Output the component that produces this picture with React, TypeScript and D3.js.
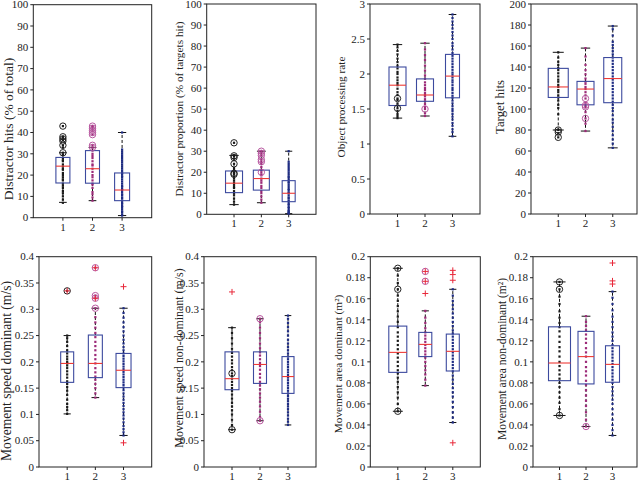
import React from "react";
import * as d3 from "d3";

// ---------- data ----------
const groups = ["1", "2", "3"];
const yLabels = [
  "Distractor hits (% of total)",
  "Distractor proportion (% of targets hit)",
  "Object processing rate",
  "Target hits",
  "Movement speed dominant (m/s)",
  "Movement speed non-dominant (m/s)",
  "Movement area dominant (m²)",
  "Movement area non-dominant (m²)",
];
const yMaxes = [100, 100, 3, 200, 0.4, 0.4, 0.2, 0.2];
const yTickSteps = [10, 10, 0.5, 20, 0.05, 0.05, 0.02, 0.02];

// stats per group: [q1, median, q3, whiskerLow, whiskerHigh]
const p1Stats = [[16.3, 24.2, 28.3, 7.2, 30.5], [16.2, 23, 31.5, 8, 33], [8, 13, 21, 1, 40]];
const p2Stats = [[10.3, 14.8, 20.6, 4.6, 28], [11.5, 17, 21, 5.5, 30], [6, 10, 16, 0.3, 30]];
const p3Stats = [[1.55, 1.84, 2.1, 1.37, 2.42], [1.61, 1.7, 1.93, 1.4, 2.44], [1.66, 1.97, 2.28, 1.11, 2.85]];
const p4Stats = [[111, 121, 138.7, 80, 154], [104, 119, 126.3, 79, 158], [106, 129, 149, 63, 179]];
const p5Stats = [[0.161, 0.197, 0.219, 0.101, 0.25], [0.17, 0.197, 0.251, 0.132, 0.302], [0.151, 0.184, 0.216, 0.06, 0.302]];
const p6Stats = [[0.147, 0.168, 0.219, 0.071, 0.265], [0.159, 0.195, 0.219, 0.088, 0.282], [0.14, 0.172, 0.21, 0.08, 0.288]];
const p7Stats = [[0.09, 0.109, 0.134, 0.053, 0.189], [0.105, 0.1166, 0.128, 0.0774, 0.1485], [0.0913, 0.11, 0.1264, 0.0423, 0.169]];
const p8Stats = [[0.0821, 0.0989, 0.1333, 0.049, 0.176], [0.079, 0.105, 0.129, 0.0385, 0.1434], [0.0806, 0.0976, 0.1153, 0.03, 0.1668]];

// individual observations (dots)
const p1Dots = [
  [7, 8.5, 10, 11.5, 12.5, 14, 15, 16, 17.5, 18, 19, 20, 21, 22.5, 23, 24, 25, 26.5, 27, 28, 29.5, 30.5, 33, 34, 36.5, 37.5, 38, 43],
  [8, 9.5, 11, 12, 14, 15.5, 16, 17.5, 19, 20, 21.5, 23, 24.5, 25, 26.5, 28, 29, 30, 31.5, 33, 34, 39, 40.5, 41.5, 42.5, 43],
  [1, 1.5, 2.5, 3, 4, 5, 5.5, 6.5, 7, 8, 9, 9.5, 10.5, 11, 12, 13, 13.5, 14.5, 15, 16, 17, 18, 19, 19.5, 20.5, 21, 22, 23, 24, 25, 26, 27, 28, 29, 30, 31, 32, 40],
];
const p2Dots = [
  [4.6, 6, 7.5, 9, 10, 11, 12.5, 13, 14, 15, 16, 17, 18, 19, 19.5, 20, 21, 22, 24, 26.5, 27.5, 28, 34],
  [5.5, 7, 8.5, 10, 11, 12.5, 13.5, 15, 16, 17, 18.5, 19, 20, 21, 22.5, 24, 25, 26, 28, 29, 30],
  [0.3, 0.6, 1, 1.5, 2, 3, 3.5, 4.5, 5, 6, 6.5, 7.5, 8, 9, 10, 10.5, 11.5, 12, 13, 14, 15, 15.5, 16.5, 17.5, 18, 19, 20, 21, 22, 23, 24, 25, 30],
];
const p3Dots = [
  [1.37, 1.4, 1.43, 1.47, 1.51, 1.55, 1.58, 1.63, 1.65, 1.7, 1.74, 1.79, 1.84, 1.87, 1.91, 1.95, 2.0, 2.03, 2.08, 2.12, 2.17, 2.22, 2.28, 2.33, 2.38, 2.42],
  [1.4, 1.44, 1.5, 1.53, 1.57, 1.61, 1.64, 1.68, 1.7, 1.73, 1.77, 1.8, 1.84, 1.88, 1.93, 1.98, 2.05, 2.12, 2.2, 2.27, 2.35, 2.44],
  [1.11, 1.17, 1.21, 1.26, 1.3, 1.35, 1.39, 1.43, 1.47, 1.5, 1.54, 1.58, 1.62, 1.66, 1.69, 1.73, 1.77, 1.8, 1.84, 1.88, 1.91, 1.95, 1.99, 2.02, 2.06, 2.1, 2.14, 2.18, 2.22, 2.26, 2.3, 2.35, 2.4, 2.44, 2.5, 2.55, 2.6, 2.65, 2.7, 2.75, 2.8, 2.85],
];
const p4Dots = [
  [73, 77, 80, 95, 101, 104, 108, 111, 113, 116, 118, 121, 123, 126, 128, 131, 134, 137, 139, 142, 145, 149, 154],
  [79, 86, 91, 97, 102, 103.5, 106, 110, 113, 116, 119, 121, 124, 126, 129, 133, 137, 142, 150, 158],
  [63, 67, 71, 75, 79, 83, 87, 90, 94, 98, 101, 104, 107, 110, 113, 116, 119, 122, 125, 128, 131, 134, 137, 140, 143, 146, 149, 152, 155, 158, 161, 164, 170, 176, 179],
];
const p5Dots = [
  [0.101, 0.108, 0.114, 0.12, 0.128, 0.137, 0.145, 0.152, 0.158, 0.163, 0.17, 0.176, 0.182, 0.188, 0.193, 0.197, 0.2, 0.205, 0.21, 0.216, 0.222, 0.23, 0.238, 0.245, 0.25, 0.335],
  [0.132, 0.14, 0.15, 0.158, 0.166, 0.172, 0.18, 0.188, 0.197, 0.205, 0.213, 0.222, 0.23, 0.238, 0.247, 0.255, 0.265, 0.275, 0.285, 0.302, 0.321, 0.326, 0.379],
  [0.06, 0.066, 0.072, 0.078, 0.085, 0.092, 0.098, 0.104, 0.11, 0.116, 0.122, 0.128, 0.134, 0.14, 0.146, 0.151, 0.156, 0.161, 0.166, 0.171, 0.176, 0.181, 0.186, 0.191, 0.196, 0.201, 0.206, 0.211, 0.216, 0.222, 0.228, 0.235, 0.242, 0.25, 0.258, 0.266, 0.275, 0.284, 0.293, 0.302],
];
const p6Dots = [
  [0.071, 0.08, 0.09, 0.1, 0.108, 0.115, 0.122, 0.13, 0.138, 0.145, 0.15, 0.156, 0.162, 0.168, 0.173, 0.178, 0.184, 0.19, 0.197, 0.203, 0.21, 0.217, 0.225, 0.235, 0.245, 0.255, 0.265],
  [0.088, 0.095, 0.105, 0.115, 0.124, 0.132, 0.14, 0.148, 0.155, 0.162, 0.17, 0.177, 0.185, 0.192, 0.198, 0.205, 0.212, 0.218, 0.226, 0.235, 0.245, 0.255, 0.265, 0.275, 0.282],
  [0.08, 0.086, 0.092, 0.098, 0.104, 0.11, 0.115, 0.12, 0.125, 0.13, 0.135, 0.14, 0.145, 0.15, 0.155, 0.16, 0.165, 0.17, 0.175, 0.18, 0.185, 0.19, 0.195, 0.2, 0.205, 0.21, 0.216, 0.222, 0.228, 0.235, 0.242, 0.25, 0.258, 0.266, 0.274, 0.282, 0.288],
];
const p7Dots = [
  [0.053, 0.06, 0.066, 0.071, 0.076, 0.081, 0.085, 0.089, 0.092, 0.096, 0.1, 0.104, 0.108, 0.112, 0.116, 0.12, 0.124, 0.128, 0.133, 0.138, 0.143, 0.148, 0.153, 0.158, 0.163, 0.169, 0.175, 0.182, 0.189],
  [0.0774, 0.083, 0.088, 0.092, 0.096, 0.1, 0.104, 0.107, 0.11, 0.113, 0.116, 0.119, 0.122, 0.125, 0.128, 0.132, 0.137, 0.142, 0.1485],
  [0.0423, 0.047, 0.052, 0.057, 0.062, 0.067, 0.071, 0.075, 0.079, 0.083, 0.087, 0.091, 0.094, 0.097, 0.1, 0.103, 0.106, 0.109, 0.112, 0.115, 0.118, 0.121, 0.124, 0.127, 0.13, 0.134, 0.138, 0.142, 0.146, 0.15, 0.154, 0.158, 0.163, 0.169],
];
const p8Dots = [
  [0.049, 0.055, 0.061, 0.066, 0.071, 0.076, 0.08, 0.084, 0.088, 0.092, 0.096, 0.1, 0.105, 0.11, 0.114, 0.119, 0.124, 0.129, 0.133, 0.137, 0.142, 0.148, 0.155, 0.162, 0.169, 0.176],
  [0.0385, 0.045, 0.052, 0.058, 0.063, 0.068, 0.073, 0.078, 0.082, 0.087, 0.091, 0.095, 0.1, 0.105, 0.109, 0.113, 0.118, 0.122, 0.126, 0.13, 0.134, 0.138, 0.1434],
  [0.03, 0.035, 0.04, 0.045, 0.05, 0.055, 0.06, 0.064, 0.068, 0.072, 0.076, 0.08, 0.083, 0.086, 0.089, 0.092, 0.095, 0.098, 0.101, 0.104, 0.107, 0.11, 0.113, 0.116, 0.12, 0.124, 0.128, 0.133, 0.138, 0.143, 0.149, 0.155, 0.161, 0.1668],
];

// highlighted observations (circles in group colour)
const p1Circles = [[43, 38, 37, 36, 34, 30.5], [43, 42, 41, 40, 39, 34, 33], []];
const p2Circles = [[34, 27.8, 27, 24, 19.5, 19], [30, 29, 28, 26, 25, 20], []];
const p3Circles = [[1.65, 1.51], [1.5], []];
const p4Circles = [[80, 78, 73], [110, 103.5, 102, 91], []];
const p5Circles = [[0.335], [0.379, 0.326, 0.321, 0.302], []];
const p6Circles = [[0.178, 0.071], [0.282, 0.088], []];
const p7Circles = [[0.189, 0.169, 0.053], [0.186, 0.1766], []];
const p8Circles = [[0.176, 0.169, 0.049], [0.0385], []];

// outliers (red +)
const p1Outliers = [[], [], []];
const p2Outliers = [[], [], []];
const p3Outliers = [[], [], []];
const p4Outliers = [[], [], []];
const p5Outliers = [[0.335], [0.379, 0.321], [0.343, 0.046]];
const p6Outliers = [[0.333], [], []];
const p7Outliers = [[], [0.186, 0.1766, 0.165], [0.187, 0.183, 0.1776, 0.023]];
const p8Outliers = [[], [], [0.194, 0.177, 0.174]];

// ---------- layout (positions / sizes, not data) ----------
const layout = [
  { l: 33.3, r: 151.7, t: 4.7, b: 217.7, lx: 8, ly: 129, bw: [14, 14, 15], fs: 13.5 },
  { l: 206.7, r: 316, t: 4, b: 214.3, lx: 179, ly: 109, bw: [17, 16, 13], fs: 11.3 },
  { l: 370, r: 480, t: 4, b: 214, lx: 341, ly: 107, bw: [17, 17, 14], fs: 11.3 },
  { l: 531, r: 640, t: 4, b: 214, lx: 500, ly: 107, bw: [20, 17, 18], fs: 12.8 },
  { l: 39, r: 151.7, t: 256.7, b: 467, lx: 6, ly: 371, bw: [13, 14, 15], fs: 13.6 },
  { l: 204, r: 316, t: 256.7, b: 467, lx: 179, ly: 358, bw: [14, 13, 12], fs: 11.9 },
  { l: 370.3, r: 480.3, t: 256.7, b: 467, lx: 338, ly: 364, bw: [18, 13, 13], fs: 11.3 },
  { l: 533, r: 639, t: 256.7, b: 467, lx: 502, ly: 359, bw: [22, 16, 14], fs: 11.5 },
];

const statsAll = [p1Stats, p2Stats, p3Stats, p4Stats, p5Stats, p6Stats, p7Stats, p8Stats];
const dotsAll = [p1Dots, p2Dots, p3Dots, p4Dots, p5Dots, p6Dots, p7Dots, p8Dots];
const circlesAll = [p1Circles, p2Circles, p3Circles, p4Circles, p5Circles, p6Circles, p7Circles, p8Circles];
const outliersAll = [p1Outliers, p2Outliers, p3Outliers, p4Outliers, p5Outliers, p6Outliers, p7Outliers, p8Outliers];

const dotColors = ["#1a1a1a", "#9c2a78", "#1e2c84"];
const circleColors = ["#222", "#b858a0", "#1e2c84"];
const boxColor = "#3c4a9e";
const medianColor = "#ee3a36";
const plusColor = "#e8283a";
const font = "'Liberation Serif', 'Times New Roman', serif";
const frameRight = 637;

function Panel({ i }: { i: number }) {
  const L = layout[i];
  const right = Math.min(L.r, frameRight);
  const x = d3.scaleLinear().domain([0, 4]).range([L.l, L.r]);
  const y = d3.scaleLinear().domain([0, yMaxes[i]]).range([L.b, L.t]);
  const ticks = d3.range(0, yMaxes[i] + yTickSteps[i] / 2, yTickSteps[i]);
  const fmt = (v: number) => String(+v.toFixed(3));
  const stats = statsAll[i];
  return (
    <g>
      <rect x={L.l} y={L.t} width={right - L.l} height={L.b - L.t} fill="none" stroke="#222" strokeWidth={1} />
      {ticks.map((v, k) => (
        <g key={"yt" + k}>
          <line x1={L.l - 3} x2={L.l} y1={y(v)} y2={y(v)} stroke="#222" />
          <text x={L.l - 5} y={y(v)} dy="0.34em" textAnchor="end" fontSize={11} fontFamily={font} fill="#222">
            {fmt(v)}
          </text>
        </g>
      ))}
      {groups.map((gname, g) => (
        <g key={"xt" + g}>
          <line x1={x(g + 1)} x2={x(g + 1)} y1={L.b} y2={L.b + 3} stroke="#222" />
          <text x={x(g + 1)} y={L.b + 13} textAnchor="middle" fontSize={11} fontFamily={font} fill="#222">
            {gname}
          </text>
        </g>
      ))}
      <text
        transform={`translate(${L.lx},${L.ly}) rotate(-90)`}
        textAnchor="middle"
        dy="0.35em"
        fontSize={L.fs}
        fontFamily={font}
        fill="#222"
      >
        {yLabels[i]}
      </text>
      {stats.map((s, g) => {
        const cx = x(g + 1);
        const bw = L.bw[g];
        const cw = bw * 0.55;
        const [q1, med, q3, lo, hi] = s;
        return (
          <g key={"b" + g}>
            <line x1={cx} x2={cx} y1={y(q3)} y2={y(hi)} stroke="#111" strokeDasharray="3,2" />
            <line x1={cx} x2={cx} y1={y(q1)} y2={y(lo)} stroke="#111" strokeDasharray="3,2" />
            <line x1={cx - cw / 2} x2={cx + cw / 2} y1={y(hi)} y2={y(hi)} stroke="#111" />
            <line x1={cx - cw / 2} x2={cx + cw / 2} y1={y(lo)} y2={y(lo)} stroke="#111" />
            {dotsAll[i][g].map((v, k) => (
              <rect key={k} x={cx - 1.1} y={y(v) - 1.1} width={2.2} height={2.2} fill={dotColors[g]} />
            ))}
            <rect x={cx - bw / 2} y={y(q3)} width={bw} height={y(q1) - y(q3)} fill="none" stroke={boxColor} strokeWidth={1.1} />
            <line x1={cx - bw / 2} x2={cx + bw / 2} y1={y(med)} y2={y(med)} stroke={medianColor} strokeWidth={1.1} />
            {circlesAll[i][g].map((v, k) => (
              <circle key={"c" + k} cx={cx} cy={y(v)} r={3.2} fill="none" stroke={circleColors[g]} strokeWidth={1} />
            ))}
            {outliersAll[i][g].map((v, k) => (
              <g key={"o" + k} stroke={plusColor} strokeWidth={1}>
                <line x1={cx - 3} x2={cx + 3} y1={y(v)} y2={y(v)} />
                <line x1={cx} x2={cx} y1={y(v) - 3} y2={y(v) + 3} />
              </g>
            ))}
          </g>
        );
      })}
    </g>
  );
}

export default function App() {
  return (
    <svg
      width={642}
      height={481}
      style={{ position: "absolute", left: 0, top: 0, background: "#fff" }}
    >
      <rect width={642} height={481} fill="#fff" />
      {layout.map((_, i) => (
        <Panel key={i} i={i} />
      ))}
    </svg>
  );
}
